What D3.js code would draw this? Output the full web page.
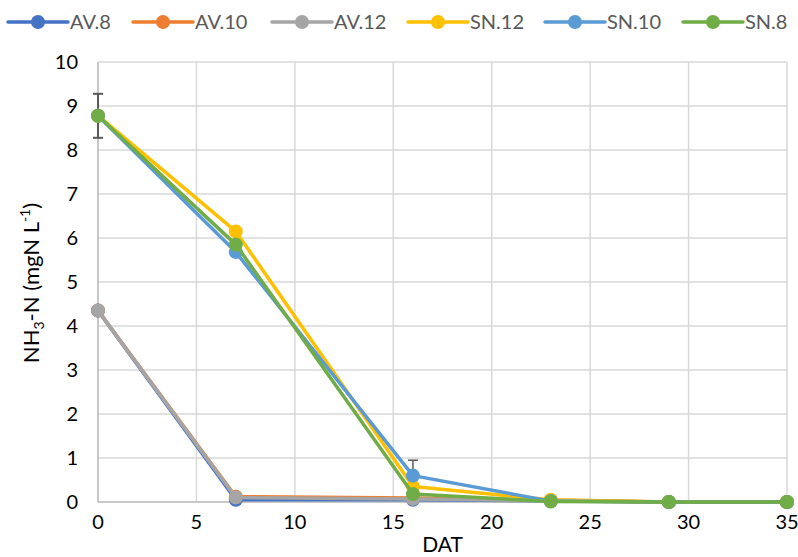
<!DOCTYPE html>
<meta charset="utf-8">
<script src="https://d3js.org/d3.v7.min.js"></script>
<style>
  body { margin: 0; background: #fff; }
  text { font-family: Lato, "Open Sans", sans-serif; }
</style>
<div id="my_dataviz"></div>
<script>

// days after transplanting
var days = [0, 7, 16, 23, 29, 35];

// series, in drawing order
var seriesNames = ["AV.8", "AV.10", "AV.12", "SN.12", "SN.10", "SN.8"];
var seriesColors = ["#4472C4", "#ED7D31", "#A5A5A5", "#FFC000", "#5B9BD5", "#70AD47"];

var av8  = [4.35, 0.05, 0.05, 0.03, 0.0, 0.0];
var av10 = [4.35, 0.12, 0.09, 0.04, 0.0, 0.0];
var av12 = [4.35, 0.1, 0.07, 0.03, 0.0, 0.0];
var sn12 = [8.78, 6.15, 0.35, 0.05, 0.0, 0.0];
var sn10 = [8.78, 5.68, 0.6, 0.02, 0.0, 0.0];
var sn8  = [8.78, 5.85, 0.18, 0.01, 0.0, 0.0];

// error bars (half-width), per series
var err12 = [0.5, 0.08, 0, 0, 0, 0];
var err10 = [0.5, 0, 0.35, 0, 0, 0];
var err8  = [0.5, 0, 0, 0, 0, 0];

var xTicks = [0, 5, 10, 15, 20, 25, 30, 35];
var yTicks = [0, 1, 2, 3, 4, 5, 6, 7, 8, 9, 10];

var allValues = [av8, av10, av12, sn12, sn10, sn8];
var allErrors = [null, null, null, err12, err10, err8];

var width = 798, height = 557;
var margin = {top: 62, right: 11, bottom: 55, left: 98};

var svg = d3.select("#my_dataviz")
  .append("svg")
    .attr("width", width)
    .attr("height", height);

var x = d3.scaleLinear().domain([0, 35]).range([margin.left, width - margin.right]);
var y = d3.scaleLinear().domain([0, 10]).range([height - margin.bottom, margin.top]);

// gridlines
svg.append("g")
  .selectAll("line.h")
  .data(yTicks)
  .enter().append("line")
    .attr("x1", x(0)).attr("x2", x(35))
    .attr("y1", function(d) { return y(d); })
    .attr("y2", function(d) { return y(d); })
    .attr("stroke", "#d9d9d9").attr("stroke-width", 1.5);
svg.append("g")
  .selectAll("line.v")
  .data(xTicks)
  .enter().append("line")
    .attr("x1", function(d) { return x(d); })
    .attr("x2", function(d) { return x(d); })
    .attr("y1", y(0)).attr("y2", y(10))
    .attr("stroke", "#d9d9d9").attr("stroke-width", 1.5);

// axis lines
svg.append("line")
  .attr("x1", x(0)).attr("x2", x(35)).attr("y1", y(0)).attr("y2", y(0))
  .attr("stroke", "#bfbfbf").attr("stroke-width", 1.5);
svg.append("line")
  .attr("x1", x(0)).attr("x2", x(0)).attr("y1", y(0)).attr("y2", y(10))
  .attr("stroke", "#bfbfbf").attr("stroke-width", 1.5);

// tick labels
svg.append("g")
  .selectAll("text")
  .data(yTicks)
  .enter().append("text")
    .attr("x", x(0) - 20)
    .attr("y", function(d) { return y(d); })
    .attr("dy", "0.35em")
    .attr("text-anchor", "end")
    .attr("font-size", 20)
    .attr("fill", "#000")
    .text(function(d) { return d; });
svg.append("g")
  .selectAll("text")
  .data(xTicks)
  .enter().append("text")
    .attr("x", function(d) { return x(d); })
    .attr("y", y(0) + 27)
    .attr("text-anchor", "middle")
    .attr("font-size", 20)
    .attr("fill", "#000")
    .text(function(d) { return d; });

// axis titles
svg.append("text")
  .attr("x", (x(0) + x(35)) / 2)
  .attr("y", 552)
  .attr("text-anchor", "middle")
  .attr("font-size", 21)
  .text("DAT");

var yl = svg.append("text")
  .attr("transform", "translate(39,283) rotate(-90)")
  .attr("text-anchor", "middle")
  .attr("font-size", 22);
yl.append("tspan").text("NH");
yl.append("tspan").attr("font-size", 14).attr("dy", 5).text("3");
yl.append("tspan").attr("dy", -5).text("-N (mgN L");
yl.append("tspan").attr("font-size", 14).attr("dy", -9).text("-1");
yl.append("tspan").attr("dy", 9).text(")");

// error bars
allErrors.forEach(function(errs, i) {
  if (!errs) return;
  var vals = allValues[i];
  days.forEach(function(d, j) {
    if (!errs[j]) return;
    var top = y(vals[j] + errs[j]), bot = y(vals[j] - errs[j]);
    var cx = x(d);
    svg.append("line")
      .attr("x1", cx).attr("x2", cx).attr("y1", top).attr("y2", bot)
      .attr("stroke", "#595959").attr("stroke-width", 1.5);
    [top, bot].forEach(function(yy) {
      svg.append("line")
        .attr("x1", cx - 5).attr("x2", cx + 5).attr("y1", yy).attr("y2", yy)
        .attr("stroke", "#595959").attr("stroke-width", 1.5);
    });
  });
});

// lines and markers
var line = d3.line()
  .x(function(d, i) { return x(days[i]); })
  .y(function(d) { return y(d); });

allValues.forEach(function(vals, i) {
  var g = svg.append("g");
  g.append("path")
    .datum(vals)
    .attr("d", line)
    .attr("fill", "none")
    .attr("stroke", seriesColors[i])
    .attr("stroke-width", 3.5)
    .attr("stroke-linejoin", "round");
  g.selectAll("circle")
    .data(vals)
    .enter().append("circle")
      .attr("cx", function(d, j) { return x(days[j]); })
      .attr("cy", function(d) { return y(d); })
      .attr("r", 7)
      .attr("fill", seriesColors[i]);
});

// legend
var legendX = [8, 133, 272, 408, 545, 683];
var legend = svg.append("g");
seriesNames.forEach(function(name, i) {
  var lx = legendX[i], ly = 22;
  legend.append("line")
    .attr("x1", lx).attr("x2", lx + 60).attr("y1", ly).attr("y2", ly)
    .attr("stroke", seriesColors[i]).attr("stroke-width", 3.5)
    .attr("stroke-linecap", "round");
  legend.append("circle")
    .attr("cx", lx + 30).attr("cy", ly).attr("r", 7)
    .attr("fill", seriesColors[i]);
  legend.append("text")
    .attr("x", lx + 62).attr("y", ly)
    .attr("dy", "0.35em")
    .attr("font-size", 20)
    .attr("fill", "#595959")
    .text(name);
});

</script>
